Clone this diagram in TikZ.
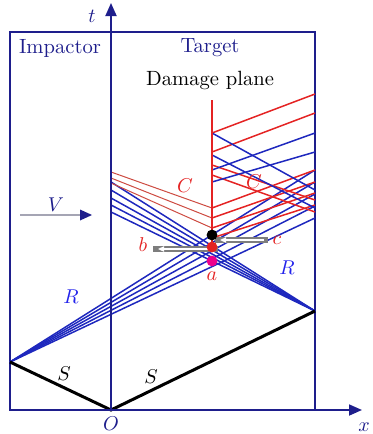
\documentclass[tikz,border=0pt]{standalone}
\usetikzlibrary{arrows.meta}
\definecolor{navy}{RGB}{30,30,140}
\definecolor{wblue}{RGB}{30,40,190}
\definecolor{lblue}{RGB}{35,35,235}
\definecolor{wred}{RGB}{228,35,35}
\definecolor{cred}{RGB}{205,75,65}
\definecolor{gbar}{RGB}{125,125,125}
\definecolor{vgray}{RGB}{165,165,180}
\begin{document}
\begin{tikzpicture}[x=0.5pt,y=-0.5pt, font=\fontsize{10.3}{12}\selectfont,
 frame/.style={draw=navy, line width=0.9pt},
 axisline/.style={navy, line width=0.9pt, -{Triangle[length=6.5pt,width=5.5pt]}},
 bwave/.style={wblue, line width=0.75pt},
 rwave/.style={wred, line width=0.75pt},
 cwave/.style={cred, line width=0.5pt},
 shock/.style={black, line width=1.5pt},
 hollowbar/.style={gbar, line width=3pt},
 barcore/.style={white, line width=1pt, -{Triangle[length=3pt,width=2.6pt]}},
 dot/.style={circle, inner sep=0pt, minimum size=5.4pt},
 lab/.style={inner sep=0pt}]
\useasboundingbox (0,0) rectangle (373,434);

% key points
\coordinate (O) at (111,410);
\coordinate (L) at (10,362);
\coordinate (Rt) at (315,311);
\coordinate (tend) at (111,3);
\coordinate (xend) at (362,410);
\coordinate (dtop) at (212,100);
\coordinate (dbot) at (212,245);

% frame
\draw[frame] (10,32) rectangle (315,410);

% left rarefaction fan
\foreach \y in {170,182,194,206,218} \draw[bwave] (L) -- (315,\y);
% right rarefaction fan
\foreach \y in {182,190,198,205,212} \draw[bwave] (Rt) -- (111,\y);

% compression waves to the left
\foreach \a/\b in {172/208,178/218,183/228} \draw[cwave] (111,\a) -- (212,\b);

% upper-right lattice
\foreach \a/\b in {133/94,152/113,208/170,218/182,228/193,238/205} \draw[rwave] (212,\a) -- (315,\b);
\foreach \a/\b in {165/200,175/212} \draw[rwave] (212,\a) -- (315,\b);
\foreach \a/\b in {133/190,155/208} \draw[bwave] (212,\a) -- (315,\b);
\foreach \a/\b in {170/133,182/152} \draw[bwave] (212,\a) -- (315,\b);

% damage plane
\draw[wred, line width=0.8pt] (dtop) -- (dbot);

% shocks
\draw[shock] (L) -- (O) -- (Rt);

% axes
\draw[axisline] (10,410) -- (xend);
\draw[axisline] (O) -- (tend);

% impact velocity
\draw[vgray, line width=1pt] (20,215) -- (84,215);
\fill[navy] (92,215) -- (80,209.5) -- (80,220.5) -- cycle;

% gauge bars
\draw[hollowbar] (153,249) -- (218,249);
\draw[barcore] (212,249) -- (158,249);
\draw[hollowbar] (215,240) -- (268,240);
\draw[barcore] (264,240) -- (220,240);

% dots
\node[dot, fill=black] (pc) at (212,235) {};
\node[dot, fill=wred] (pb) at (212,247) {};
\node[dot, fill=magenta] (pa) at (212,261) {};

% labels
\node[lab, navy] (lt) at (92,16) {$t$};
\node[lab, navy] (limp) at (60,48) {Impactor};
\node[lab, navy] (ltar) at (210,48) {Target};
\node[lab] (ldam) at (210,80) {Damage plane};
\node[lab, wred] (lc1) at (185,186) {$C$};
\node[lab, wred] (lc2) at (254,182) {$C$};
\node[lab, navy] (lv) at (56,205) {$V$};
\node[lab, lblue] (lr1) at (71,297) {$R$};
\node[lab, lblue] (lr2) at (287,268) {$R$};
\node[lab] (ls1) at (64,374) {$S$};
\node[lab] (ls2) at (151,377) {$S$};
\node[lab, navy] (lo) at (111,424) {$O$};
\node[lab, navy] (lx) at (364,427) {$x$};
\node[lab, wred] (la) at (212,276) {$a$};
\node[lab, wred] (lb) at (143,245) {$b$};
\node[lab, wred] (lcc) at (277,240) {$c$};
\end{tikzpicture}
\end{document}
